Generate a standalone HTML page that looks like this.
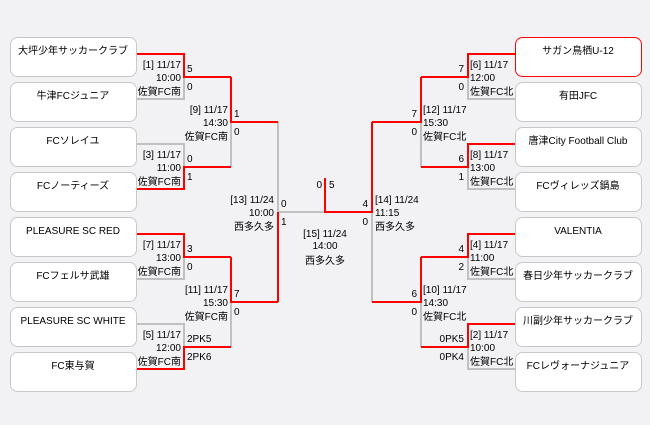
<!DOCTYPE html>
<html><head><meta charset="utf-8">
<style>
html,body{margin:0;padding:0;background:#f2f1f4;}
svg{display:block;}
text{font-family:"Liberation Sans","Noto Sans CJK JP",sans-serif;font-size:10px;fill:#000;}
</style></head>
<body>
<svg width="650" height="425" viewBox="0 0 650 425" xmlns="http://www.w3.org/2000/svg">
<rect width="650" height="425" fill="#f2f1f4"/>
<g fill="#fff" stroke="#c8c8c8" stroke-width="1">
<rect x="10.5" y="37.5" width="126" height="39" rx="7"/>
<rect x="10.5" y="82.5" width="126" height="39" rx="7"/>
<rect x="10.5" y="127.5" width="126" height="39" rx="7"/>
<rect x="10.5" y="172.5" width="126" height="39" rx="7"/>
<rect x="10.5" y="217.5" width="126" height="39" rx="7"/>
<rect x="10.5" y="262.5" width="126" height="39" rx="7"/>
<rect x="10.5" y="307.5" width="126" height="39" rx="7"/>
<rect x="10.5" y="352.5" width="126" height="39" rx="7"/>
<rect x="515.5" y="37.5" width="126" height="39" rx="7" stroke="#f00"/>
<rect x="515.5" y="82.5" width="126" height="39" rx="7"/>
<rect x="515.5" y="127.5" width="126" height="39" rx="7"/>
<rect x="515.5" y="172.5" width="126" height="39" rx="7"/>
<rect x="515.5" y="217.5" width="126" height="39" rx="7"/>
<rect x="515.5" y="262.5" width="126" height="39" rx="7"/>
<rect x="515.5" y="307.5" width="126" height="39" rx="7"/>
<rect x="515.5" y="352.5" width="126" height="39" rx="7"/>
</g>
<g text-anchor="middle">
<text x="73" y="54">大坪少年サッカークラブ</text>
<text x="73" y="99">牛津FCジュニア</text>
<text x="73" y="144">FCソレイユ</text>
<text x="73" y="189">FCノーティーズ</text>
<text x="73" y="234">PLEASURE SC RED</text>
<text x="73" y="279">FCフェルサ武雄</text>
<text x="73" y="324">PLEASURE SC WHITE</text>
<text x="73" y="369">FC東与賀</text>
<text x="578" y="54">サガン鳥栖U-12</text>
<text x="578" y="99">有田JFC</text>
<text x="578" y="144">唐津City Football Club</text>
<text x="578" y="189">FCヴィレッズ鍋島</text>
<text x="578" y="234">VALENTIA</text>
<text x="578" y="279">春日少年サッカークラブ</text>
<text x="578" y="324">川副少年サッカークラブ</text>
<text x="578" y="369">FCレヴォーナジュニア</text>
</g>
<g fill="none" stroke-width="2">
<g stroke="#c0c0c0">
<path d="M184 77V99H137"/><path d="M184 167V144H137"/><path d="M184 257V279H137"/><path d="M184 347V324H137"/>
<path d="M231 122V167"/><path d="M231 302V347"/>
<path d="M278 122V212H325"/>
<path d="M468 77V99H515"/><path d="M468 167V189H515"/><path d="M468 257V279H515"/><path d="M468 347V369H515"/>
<path d="M421 122V167"/><path d="M421 302V347"/>
<path d="M372 212V302"/>
</g>
<g stroke="#f00">
<path d="M137 54H184V77H231"/><path d="M137 189H184V167H231"/><path d="M137 234H184V257H231"/><path d="M137 369H184V347H231"/>
<path d="M231 77V122H278"/><path d="M231 257V302H278"/>
<path d="M278 212V302"/>
<path d="M515 54H468V77H421"/><path d="M515 144H468V167H421"/><path d="M515 234H468V257H421"/><path d="M515 324H468V347H421"/>
<path d="M421 77V122H372"/><path d="M421 257V302H372"/>
<path d="M372 122V212H325V178"/>
</g>
</g>
<g text-anchor="end">
<text x="181" y="68">[1] 11/17</text><text x="181" y="81">10:00</text><text x="181" y="95">佐賀FC南</text>
<text x="181" y="158">[3] 11/17</text><text x="181" y="171">11:00</text><text x="181" y="185">佐賀FC南</text>
<text x="181" y="248">[7] 11/17</text><text x="181" y="261">13:00</text><text x="181" y="275">佐賀FC南</text>
<text x="181" y="338">[5] 11/17</text><text x="181" y="351">12:00</text><text x="181" y="365">佐賀FC南</text>
<text x="228" y="113">[9] 11/17</text><text x="228" y="126">14:30</text><text x="228" y="140">佐賀FC南</text>
<text x="228" y="293">[11] 11/17</text><text x="228" y="306">15:30</text><text x="228" y="320">佐賀FC南</text>
<text x="274" y="203">[13] 11/24</text><text x="274" y="216">10:00</text><text x="274" y="230">西多久多</text>
<text x="464" y="72">7</text><text x="464" y="90">0</text>
<text x="464" y="162">6</text><text x="464" y="180">1</text>
<text x="464" y="252">4</text><text x="464" y="270">2</text>
<text x="464" y="342">0PK5</text><text x="464" y="360">0PK4</text>
<text x="417" y="117">7</text><text x="417" y="135">0</text>
<text x="417" y="297">6</text><text x="417" y="315">0</text>
<text x="368" y="207">4</text><text x="368" y="225">0</text>
<text x="322" y="188">0</text>
</g>
<g>
<text x="187" y="72">5</text><text x="187" y="90">0</text>
<text x="187" y="162">0</text><text x="187" y="180">1</text>
<text x="187" y="252">3</text><text x="187" y="270">0</text>
<text x="187" y="342">2PK5</text><text x="187" y="360">2PK6</text>
<text x="234" y="117">1</text><text x="234" y="135">0</text>
<text x="234" y="297">7</text><text x="234" y="315">0</text>
<text x="281" y="207">0</text><text x="281" y="225">1</text>
<text x="329" y="188">5</text>
<text x="470" y="68">[6] 11/17</text><text x="470" y="81">12:00</text><text x="470" y="95">佐賀FC北</text>
<text x="470" y="158">[8] 11/17</text><text x="470" y="171">13:00</text><text x="470" y="185">佐賀FC北</text>
<text x="470" y="248">[4] 11/17</text><text x="470" y="261">11:00</text><text x="470" y="275">佐賀FC北</text>
<text x="470" y="338">[2] 11/17</text><text x="470" y="351">10:00</text><text x="470" y="365">佐賀FC北</text>
<text x="423" y="113">[12] 11/17</text><text x="423" y="126">15:30</text><text x="423" y="140">佐賀FC北</text>
<text x="423" y="293">[10] 11/17</text><text x="423" y="306">14:30</text><text x="423" y="320">佐賀FC北</text>
<text x="375" y="203">[14] 11/24</text><text x="375" y="216">11:15</text><text x="375" y="230">西多久多</text>
</g>
<g text-anchor="middle">
<text x="325" y="237">[15] 11/24</text><text x="325" y="249">14:00</text><text x="325" y="264">西多久多</text>
</g>
</svg>
</body></html>
